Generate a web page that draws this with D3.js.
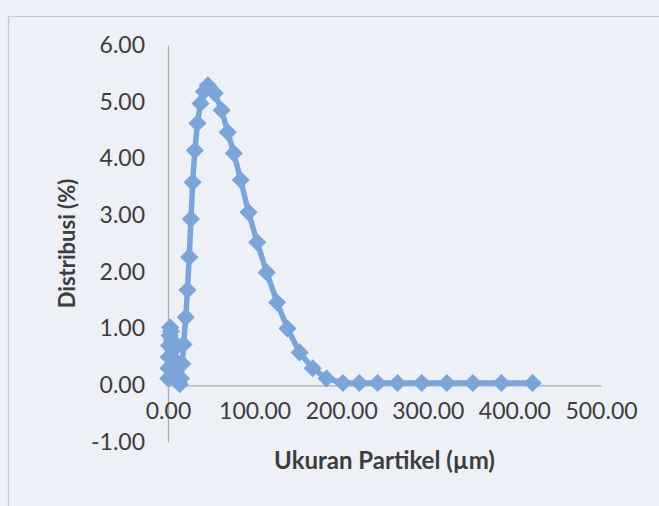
<!DOCTYPE html>
<html>
<head>
<meta charset="utf-8">
<script src="https://cdn.jsdelivr.net/npm/d3@7"></script>
<style>
  html, body { margin: 0; padding: 0; background: #edf0f6; }
  svg { display: block; }
</style>
</head>
<body>
<svg id="chart" width="659" height="506"></svg>
<script>
// ---- data ----
const sizes = [0.3, 0.5, 0.8, 1.2, 1.8, 2.5, 3.5, 4.5, 6, 7.5, 9, 10.5, 12, 13.5, 15, 16.5, 18,
  20.5, 22.5, 24.5, 26.5, 28.5, 31, 34, 37.5, 41.5, 46, 54, 62, 69, 76, 84, 93, 103, 114, 126,
  138, 152, 167, 183, 202, 221, 242, 265, 293, 322, 352, 385, 421];
const distribution = [0.12, 0.30, 0.50, 0.70, 0.88, 1.02, 0.95, 0.80, 0.62, 0.45, 0.30, 0.18, 0.08, 0.02, 0.12, 0.38, 0.72,
  1.20, 1.68, 2.26, 2.93, 3.58, 4.14, 4.62, 4.97, 5.18, 5.29, 5.15, 4.85, 4.46, 4.09, 3.62, 3.05, 2.52, 1.99, 1.46,
  1.00, 0.58, 0.30, 0.12, 0.04, 0.04, 0.04, 0.04, 0.04, 0.04, 0.04, 0.04, 0.04];
const xTicks = [0, 100, 200, 300, 400, 500];
const yTicks = [-1, 0, 1, 2, 3, 4, 5, 6];
const xTitle = "Ukuran Partikel (µm)";
const yTitle = "Distribusi (%)";

const points = sizes.map((s, i) => ({ x: s, y: distribution[i] }));
const fmt = v => d3.format(".2f")(v).replace("\u2212", "-");

const svg = d3.select("#chart");
const W = 659, H = 506;

// background paper + chart frame
svg.append("rect").attr("width", W).attr("height", H).attr("fill", "#edf0f6");
svg.append("path")
  .attr("d", `M8.5,${H} L8.5,16.5 L${W},16.5`)
  .attr("fill", "none").attr("stroke", "#c6c9d0").attr("stroke-width", 1.2);

const x = d3.scaleLinear().domain([0, 500]).range([168, 601]);
const y = d3.scaleLinear().domain([-1, 6]).range([442, 45]);

const textColor = "#3d3d3d";
const font = "Lato, 'Open Sans', sans-serif";

// y axis (line at x=0)
const yAxis = d3.axisLeft(y).tickValues(yTicks).tickSize(0).tickPadding(23).tickFormat(fmt);
const gy = svg.append("g").attr("transform", `translate(${x(0)},0)`).call(yAxis);
gy.select(".domain").attr("stroke", "#a9abb0").attr("stroke-width", 1.3);
gy.selectAll("text").attr("fill", textColor).attr("font-family", font).attr("font-size", 23);

// x axis (line at y=0)
const xAxis = d3.axisBottom(x).tickValues(xTicks).tickSize(0).tickPadding(17).tickFormat(fmt);
const gx = svg.append("g").attr("transform", `translate(0,${y(0)})`).call(xAxis);
gx.select(".domain").attr("stroke", "#a9abb0").attr("stroke-width", 1.3);
gx.selectAll("text").attr("fill", textColor).attr("font-family", font).attr("font-size", 23);

// series line
const line = d3.line().x(d => x(d.x)).y(d => y(d.y));
svg.append("path").datum(points)
  .attr("d", line)
  .attr("fill", "none")
  .attr("stroke", "#7ba4d9")
  .attr("stroke-width", 5.5)
  .attr("stroke-linejoin", "round");

// diamond markers
const diamond = d3.symbol().type(d3.symbolSquare).size(165);
svg.append("g").selectAll("path").data(points).join("path")
  .attr("d", diamond)
  .attr("transform", d => `translate(${x(d.x)},${y(d.y)}) rotate(45)`)
  .attr("fill", "#7ba4d9");

// axis titles
svg.append("text")
  .attr("x", (x(0) + x(500)) / 2).attr("y", 469)
  .attr("text-anchor", "middle")
  .attr("font-family", font).attr("font-weight", "bold").attr("font-size", 24)
  .attr("fill", textColor).text(xTitle);

svg.append("text")
  .attr("transform", `translate(75,${(y(6) + y(-1)) / 2}) rotate(-90)`)
  .attr("text-anchor", "middle")
  .attr("font-family", font).attr("font-weight", "bold").attr("font-size", 22)
  .attr("fill", textColor).text(yTitle);
</script>
</body>
</html>
